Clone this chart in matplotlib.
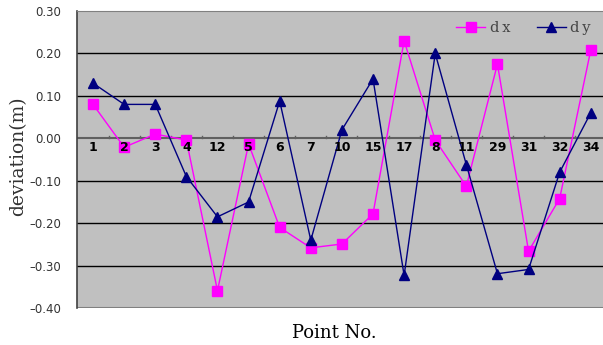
import matplotlib.pyplot as plt
import numpy as np

# Datos
points = ['1', '2', '3', '4', '12', '5', '6', '7', '10', '15', '17', '8', '11', '29', '31', '32', '34']
dx = [0.08, -0.021, 0.01, -0.004, -0.359, -0.013, -0.21, -0.258, -0.249, -0.178,
      0.23, -0.004, -0.113, 0.175, -0.266, -0.142, 0.208]
dy = [0.13, 0.08, 0.08, -0.09, -0.185, -0.15, 0.088, -0.24, 0.02, 0.14,
      -0.323, 0.20, -0.062, -0.319, -0.309, -0.08, 0.06]
yticks = [0.30, 0.20, 0.10, 0.00, -0.10, -0.20, -0.30, -0.40]

TS = '\u2009'  # espacio fino entre letras


def spaced(s):
    return TS.join(s)


def plot_data():
    fig = plt.figure(figsize=(6.03, 3.45), dpi=100)
    ax = fig.add_axes([0.1285, 0.107, 0.877, 0.861])
    ax.set_facecolor('#c0c0c0')

    x = np.arange(len(points))
    ax.set_xlim(-0.5, len(points) - 0.5)
    ax.set_ylim(-0.40, 0.30)

    # rejilla horizontal
    for yv in yticks:
        if yv in (0.30, -0.40, 0.00):
            continue
        ax.axhline(yv, color='black', lw=1.0, zorder=1)
    ax.axhline(0.0, color='#606060', lw=1.5, zorder=1)

    ax.plot(x, dx, 's-', color='#ff00ff', lw=1.0, ms=7, label=spaced('dx'), zorder=3)
    ax.plot(x, dy, '^-', color='#000080', lw=1.0, ms=7, label=spaced('dy'), zorder=4)

    # eje de categorías cruzando en cero
    ax.spines['bottom'].set_visible(False)
    ax.spines['top'].set_color('#808080')
    ax.spines['right'].set_visible(False)
    ax.spines['left'].set_color('#404040')
    ax.spines['left'].set_linewidth(1.2)
    ax.axhline(-0.40, color='#808080', lw=1.5, zorder=2)

    ax.set_xticks([])
    for xi in x[:-1]:
        ax.plot([xi + 0.5, xi + 0.5], [0.0, 0.006], color='#606060', lw=1.0, zorder=2)
    for xi, lab in zip(x, points):
        ax.text(xi, -0.022, lab, ha='center', va='center', fontsize=9,
                fontweight='bold', color='black', zorder=5)

    ax.set_yticks(yticks)
    ax.set_yticklabels([f'{v:.2f}'.replace('-', '\u2013') for v in yticks],
                       fontsize=8.5, color='#333333')
    ax.tick_params(axis='y', length=0, pad=12)

    fig.text(0.03, 0.548, 'deviation(m)', family='DejaVu Serif', fontsize=13.5,
             rotation=90, ha='center', va='center', color='#333333')
    fig.text(0.555, 0.035, 'Point No.', family='DejaVu Serif',
             fontsize=13, ha='center', va='center', color='black')

    leg = ax.legend(loc='upper right', ncol=2, frameon=False,
                    prop={'family': 'DejaVu Serif', 'size': 10.5},
                    handlelength=2.0, handletextpad=0.3, columnspacing=1.8,
                    bbox_to_anchor=(0.995, 1.01))
    for t in leg.get_texts():
        t.set_color('#444444')

    fig.savefig('out.png', dpi=100)
    plt.close(fig)


if __name__ == '__main__':
    plot_data()
